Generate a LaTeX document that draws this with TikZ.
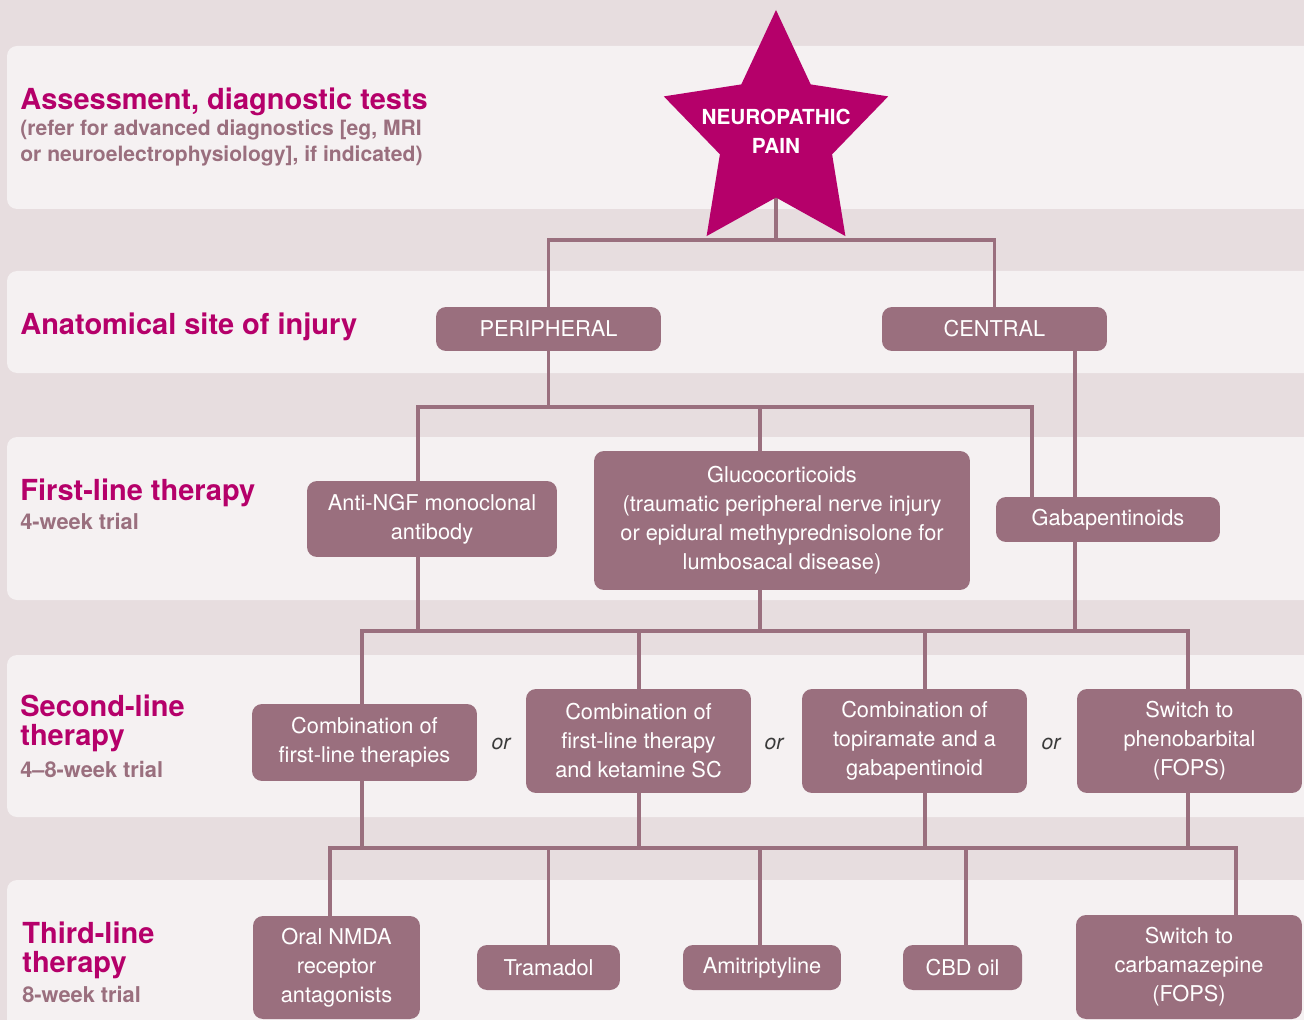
\documentclass[tikz,border=0pt]{standalone}
\usepackage{fontspec}
\setmainfont{TeX Gyre Heros}
\definecolor{neo}{HTML}{B5006A}
\definecolor{mauve}{HTML}{9A6F7E}
\definecolor{paper}{HTML}{E7DDDF}
\definecolor{band}{HTML}{F5F1F2}
\definecolor{ortext}{HTML}{3A3A3A}
\begin{document}
\begin{tikzpicture}[x=0.02cm,y=-0.02cm,
    box/.style={fill=mauve,text=white,rounded corners=0.2cm,align=center,inner sep=0pt,
        font=\fontsize{12.4}{16.5}\selectfont},
    link/.style={draw=mauve,line width=2pt},
    heading/.style={anchor=base west,inner sep=0pt,text=neo,align=left,
        font=\fontsize{16.5}{16.5}\selectfont\bfseries},
    trial/.style={anchor=base west,inner sep=0pt,text=mauve,align=left,
        font=\fontsize{12}{14.8}\selectfont\bfseries},
    ortag/.style={text=ortext,font=\fontsize{12}{14}\selectfont\itshape}]
    \useasboundingbox (0,0) rectangle (1304,1020);
    \fill[paper] (0,0) rectangle (1304,1020);
    \fill[band,rounded corners=0.2cm] (7,46) rectangle (1340,209);
    \fill[band,rounded corners=0.2cm] (7,271) rectangle (1340,373);
    \fill[band,rounded corners=0.2cm] (7,437) rectangle (1340,600);
    \fill[band,rounded corners=0.2cm] (7,655) rectangle (1340,817);
    \fill[band,rounded corners=0.2cm] (7,880) rectangle (1340,1060);

    \node[heading] (assesshd) at (20,110) {Assessment, diagnostic tests};
    \node[trial] (assesssub) at (20,162) {(refer for advanced diagnostics [eg, MRI\\or neuroelectrophysiology], if indicated)};
    \node[heading] (sitehd) at (20,335) {Anatomical site of injury};
    \node[heading] (firsthd) at (20,500) {First-line therapy};
    \node[trial,font=\fontsize{12.4}{14.8}\selectfont\bfseries] (firsttr) at (20,529) {4-week trial};
    \node[heading] (secondhd) at (20,745) {Second-line\\therapy};
    \node[trial,font=\fontsize{12.4}{14.8}\selectfont\bfseries] (secondtr) at (20,777) {4--8-week trial};
    \node[heading] (thirdhd) at (22,972) {Third-line\\therapy};
    \node[trial,font=\fontsize{12.4}{14.8}\selectfont\bfseries] (thirdtr) at (22,1002) {8-week trial};

    \node[box,minimum width=4.5cm,minimum height=0.88cm] (peri) at (548.5,329) {PERIPHERAL};
    \node[box,minimum width=4.5cm,minimum height=0.88cm] (cent) at (994.5,329) {CENTRAL};
    \node[box,minimum width=5cm,minimum height=1.52cm] (antingf) at (432,519) {Anti-NGF monoclonal\\antibody};
    \node[box,minimum width=7.52cm,minimum height=2.78cm] (gluco) at (782,520.5) {Glucocorticoids\\(traumatic peripheral nerve injury\\or epidural methyprednisolone for\\lumbosacal disease)};
    \node[box,minimum width=4.48cm,minimum height=0.9cm] (gaba) at (1108,519.5) {Gabapentinoids};
    \node[box,minimum width=4.5cm,minimum height=1.54cm] (combo1) at (364.5,742.5) {Combination of\\first-line therapies};
    \node[box,minimum width=4.5cm,minimum height=2.08cm] (combo2) at (638.5,741) {Combination of\\first-line therapy\\and ketamine SC};
    \node[box,minimum width=4.5cm,minimum height=2.08cm] (combo3) at (914.5,741) {Combination of\\topiramate and a\\gabapentinoid};
    \node[box,minimum width=4.5cm,minimum height=2.08cm] (phenob) at (1189.5,741) {Switch to\\phenobarbital\\(FOPS)};
    \node[ortag] (or1) at (501,744) {or};
    \node[ortag] (or2) at (774,744) {or};
    \node[ortag] (or3) at (1051,744) {or};
    \node[box,minimum width=3.34cm,minimum height=2.06cm] (nmda) at (336.5,967.5) {Oral NMDA\\receptor\\antagonists};
    \node[box,minimum width=2.86cm,minimum height=0.9cm] (tram) at (548.5,967.5) {Tramadol};
    \node[box,minimum width=3.16cm,minimum height=0.9cm] (amit) at (762,967.5) {Amitriptyline};
    \node[box,minimum width=2.38cm,minimum height=0.9cm] (cbd) at (962.5,967.5) {CBD oil};
    \node[box,minimum width=4.52cm,minimum height=2.08cm] (carba) at (1189,967) {Switch to\\carbamazepine\\(FOPS)};

    \coordinate (painfoot) at (776,197.5);
    \draw[link] (painfoot) -- ++(0,42.5) coordinate (j1);
    \draw[link] (peri.north) |- (j1) -| (cent.north);
    \draw[link] (peri.south) -- (peri.south |- 0,407);
    \draw[link] (antingf.north -| 418,0) -- (418,407) -- (1032,407) -- (gaba.north -| 1032,0);
    \draw[link] (gluco.north -| 760,0) -- (760,407);
    \draw[link] (cent.south -| 1075,0) -- (gaba.north -| 1075,0);
    \draw[link] (antingf.south -| 418,0) -- (418,631);
    \draw[link] (gluco.south -| 760,0) -- (760,631);
    \draw[link] (gaba.south -| 1075,0) -- (1075,631);
    \draw[link] (combo1.north -| 362,0) -- (362,631) -- (1188,631) -- (phenob.north -| 1188,0);
    \draw[link] (combo2.north -| 639,0) -- (639,631);
    \draw[link] (combo3.north -| 925,0) -- (925,631);
    \draw[link] (combo1.south -| 362,0) -- (362,848);
    \draw[link] (combo2.south -| 639,0) -- (639,848);
    \draw[link] (combo3.south -| 925,0) -- (925,848);
    \draw[link] (phenob.south -| 1188,0) -- (1188,848);
    \draw[link] (nmda.north -| 330,0) -- (330,848) -- (1236,848) -- (carba.north -| 1236,0);
    \draw[link] (tram.north) -- (tram.north |- 0,848);
    \draw[link] (amit.north -| 760,0) -- (760,848);
    \draw[link] (cbd.north -| 966,0) -- (966,848);

    \fill[neo] (776,10) -- (741.3,84.4) -- (663.8,96.4) -- (719.9,154.3) -- (706.6,236.1)
        -- (776,197.5) -- (845.4,236.1) -- (832.1,154.3) -- (888.2,96.4) -- (810.7,84.4) -- cycle;
    \node[align=center,text=white,font=\fontsize{11.8}{16.5}\selectfont\bfseries] (pain) at (776,131) {NEUROPATHIC\\PAIN};
\end{tikzpicture}
\end{document}
